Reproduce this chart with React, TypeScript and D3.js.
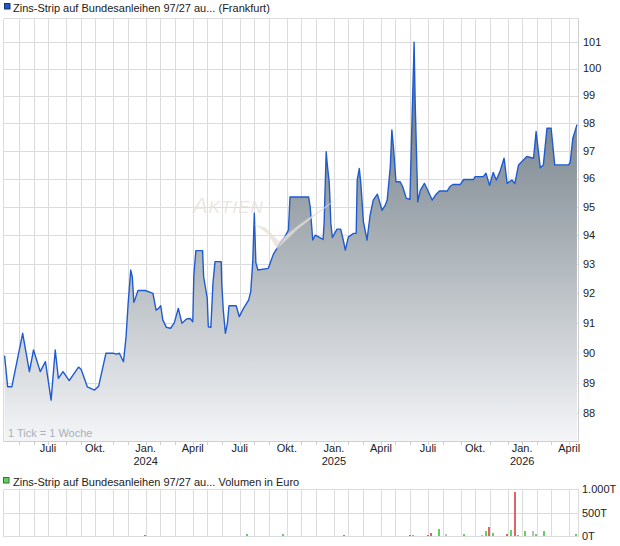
import React from 'react';
import * as d3 from 'd3';

const priceDates = [
  '2023-04-03','2023-04-09','2023-04-17','2023-05-08','2023-05-21','2023-05-29','2023-06-11','2023-06-21',
  '2023-07-02','2023-07-10','2023-07-16','2023-07-25','2023-08-06','2023-08-24','2023-08-29','2023-09-10',
  '2023-09-24','2023-10-02','2023-10-16','2023-10-31','2023-11-05','2023-11-11','2023-11-19','2023-11-24',
  '2023-11-28','2023-12-03','2023-12-06','2023-12-09','2023-12-12','2023-12-17','2023-12-31','2024-01-15',
  '2024-01-21','2024-01-26','2024-01-30','2024-02-03','2024-02-10','2024-02-18','2024-02-25','2024-03-04',
  '2024-03-11','2024-03-20','2024-03-27','2024-04-01','2024-04-03','2024-04-07','2024-04-20','2024-04-22',
  '2024-04-29','2024-05-01','2024-05-06','2024-05-10','2024-05-14','2024-05-26','2024-05-27','2024-05-30',
  '2024-06-03','2024-06-07','2024-06-10','2024-06-24','2024-06-30','2024-07-08','2024-07-18','2024-07-22',
  '2024-07-26','2024-07-29','2024-08-01','2024-08-05','2024-08-25','2024-09-04','2024-09-17','2024-09-26',
  '2024-10-03','2024-10-06','2024-11-11','2024-11-14','2024-11-19','2024-11-24','2024-12-09','2024-12-11',
  '2024-12-15','2024-12-17','2024-12-21','2024-12-24','2024-12-27','2025-01-05','2025-01-12','2025-01-17',
  '2025-01-21','2025-01-27','2025-02-06','2025-02-11','2025-02-13','2025-02-17','2025-02-20','2025-02-25',
  '2025-03-04','2025-03-10','2025-03-16','2025-03-24','2025-04-02','2025-04-08','2025-04-12','2025-04-18',
  '2025-04-21','2025-04-24','2025-04-29','2025-05-07','2025-05-12','2025-05-19','2025-05-26','2025-05-30',
  '2025-06-02','2025-06-03','2025-06-05','2025-06-09','2025-06-10','2025-06-15','2025-06-23','2025-06-28',
  '2025-07-08','2025-07-14','2025-07-22','2025-08-06','2025-08-12','2025-08-17','2025-08-31','2025-09-07',
  '2025-09-26','2025-09-29','2025-10-15','2025-10-20','2025-10-27','2025-11-03','2025-11-09','2025-11-16',
  '2025-11-24','2025-11-30','2025-12-09','2025-12-15','2025-12-22','2026-01-07','2026-01-20','2026-01-25',
  '2026-01-28','2026-02-02','2026-02-08','2026-02-15','2026-02-23','2026-03-02','2026-03-29','2026-04-01',
  '2026-04-06','2026-04-11','2026-04-14'
];

const priceValues = [
  89.9, 88.87, 88.87, 90.65, 89.37, 90.09, 89.37, 89.7,
  88.43, 90.09, 89.15, 89.37, 89.07, 89.52, 89.45, 88.87,
  88.76, 88.89, 89.98, 89.98, 89.95, 89.98, 89.7, 90.54,
  91.66, 92.8, 92.57, 91.7, 91.83, 92.1, 92.1, 92.0,
  91.43, 91.49, 91.58, 91.1, 90.85, 90.82, 90.99, 91.49,
  90.99, 91.13, 91.15, 91.04, 92.62, 93.47, 93.47, 92.57,
  91.83, 90.87, 90.85, 92.34, 93.09, 93.09, 92.34, 91.43,
  90.65, 90.99, 91.58, 91.58, 91.21, 91.49, 91.77, 92.05,
  93.09, 94.78, 93.05, 92.8, 92.86, 93.35, 93.73, 93.95,
  94.19, 95.35, 95.35, 95.01, 93.84, 94.01, 93.86, 94.42,
  96.96, 96.53, 95.83, 94.42, 93.93, 94.22, 94.22, 93.84,
  93.49, 93.95, 94.07, 94.07, 95.95, 96.36, 95.83, 94.47,
  93.84, 94.71, 95.24, 95.45, 94.88, 95.05, 95.24, 96.42,
  97.75, 97.14, 95.89, 95.89, 95.71, 95.3, 95.27, 98.11,
  100.19, 100.98, 98.84, 95.95, 95.18, 95.58, 95.83, 95.64,
  95.24, 95.41, 95.56, 95.56, 95.73, 95.79, 95.79, 95.97,
  95.97, 96.07, 96.07, 96.19, 95.76, 96.22, 95.95, 96.25,
  96.73, 95.83, 95.95, 95.83, 96.49, 96.79, 96.73, 97.69,
  97.2, 96.39, 96.49, 97.81, 97.81, 96.49, 96.49, 96.59,
  97.45, 97.75, 97.94
];

const volumeDates = [
  '2023-12-30','2024-07-15','2024-09-22','2025-01-18','2025-05-26','2025-06-01','2025-06-30','2025-07-05',
  '2025-07-21','2025-08-03','2025-08-17','2025-09-08','2025-10-04','2025-10-12','2025-10-20','2025-10-26',
  '2025-11-03','2025-11-29','2025-12-07','2025-12-15','2025-12-21','2026-01-04','2026-01-19','2026-01-25',
  '2026-02-09','2026-02-15','2026-03-01','2026-04-12'
];
const volumeValues = [
  28, 50, 50, 28, 28, 28, 20, 70,
  156, 50, 14, 50, 14, 28, 113, 206,
  70, 50, 135, 950, 35, 113, 113, 50,
  113, 14, 14, 50
];
const volumeKinds = [
  'down','up','up','down','down','up','down','down',
  'up','flat','up','up','flat','flat','up','down',
  'up','down','up','down','up','up','flat','up',
  'up','up','down','up'
];

const priceTicks = [88, 89, 90, 91, 92, 93, 94, 95, 96, 97, 98, 99, 100, 101];
const volumeTicks = [0, 500, 1000];
const volumeTickLabels = ['0T', '500T', '1.000T'];
const monthLabelNames = ['Jan.', '', '', 'April', '', '', 'Juli', '', '', 'Okt.', '', ''];

const titleMain = 'Zins-Strip auf Bundesanleihen 97/27 au... (Frankfurt)';
const titleVolume = 'Zins-Strip auf Bundesanleihen 97/27 au... Volumen in Euro';
const tickNote = '1 Tick = 1 Woche';

const FONT = '"Liberation Sans", Arial, Helvetica, sans-serif';

export default function App() {
  const parse = d3.timeParse('%Y-%m-%d');
  const pts = priceDates.map((d, i) => ({ date: parse(d) as Date, value: priceValues[i] }));
  const vols = volumeDates.map((d, i) => ({ date: parse(d) as Date, value: volumeValues[i], kind: volumeKinds[i] }));

  const left = 2.5, right = 578, top = 18, bottom = 441;
  const x = d3.scaleTime().domain([new Date(2023, 2, 30), new Date(2026, 3, 16)]).range([left, right]);
  const y = d3.scaleLog().domain([88, 101]).range([413.3, 41.7]);
  const vTop = 489.3, vBottom = 536.3;
  const yv = d3.scaleLinear().domain([0, 1000]).range([vBottom, vTop]);
  const crisp = (v: number) => Math.round(v) + 0.5;

  const months = d3.timeMonth.range(new Date(2023, 3, 1), new Date(2026, 4, 1));
  const gridMonths = months
    .map((m) => ({ m, pos: x(d3.timeMonday.floor(m)) }))
    .filter((g) => g.pos > left + 1 && g.pos < right - 1);

  const area = d3.area<{ date: Date; value: number }>()
    .x((d) => x(d.date))
    .y0(bottom)
    .y1((d) => y(d.value));
  const line = d3.line<{ date: Date; value: number }>()
    .x((d) => x(d.date))
    .y((d) => y(d.value));

  const volColor: Record<string, string> = { up: '#5fd35f', down: '#e06464', flat: '#bdbdbd' };
  const grid = '#dcdcdc';
  const L = crisp(left), R = crisp(right), T = crisp(top), B = crisp(bottom);
  const VT = crisp(vTop), VB = crisp(vBottom);

  return (
    <div style={{ position: 'absolute', left: 0, top: 0 }}>
      <svg width={620} height={546} style={{ display: 'block', fontFamily: FONT }}>
        <defs>
          <linearGradient id="areaGrad" gradientUnits="userSpaceOnUse" x1="0" y1={41} x2="0" y2={bottom}>
            <stop offset="0" stopColor="#5e6c76" />
            <stop offset="1" stopColor="#f4f5f7" />
          </linearGradient>
          <clipPath id="plotClip">
            <rect x={left} y={top} width={right - left} height={bottom - top} />
          </clipPath>
        </defs>
        <rect x={0} y={0} width={620} height={546} fill="#ffffff" />

        {/* title */}
        <rect x={4.5} y={3.5} width={5.5} height={5.5} fill="#1f56c8" stroke="#1a3470" strokeWidth={1} />
        <text x={13} y={11.5} fontSize={11} fill="#222">{titleMain}</text>

        {/* main grid */}
        <g shapeRendering="crispEdges">
          {priceTicks.map((t) => (
            <line key={'h' + t} x1={L} x2={R} y1={crisp(y(t))} y2={crisp(y(t))} stroke={grid} strokeWidth={1} />
          ))}
          {gridMonths.map((g, i) => (
            <line key={'v' + i} x1={crisp(g.pos)} x2={crisp(g.pos)} y1={T} y2={B} stroke={grid} strokeWidth={1} />
          ))}
          <line x1={L} x2={R} y1={T} y2={T} stroke={grid} />
          <line x1={L} x2={L} y1={T} y2={B} stroke={grid} />
        </g>

        {/* area & line */}
        <g clipPath="url(#plotClip)">
          <path d={area(pts) || ''} fill="url(#areaGrad)" />
          <path d={line(pts) || ''} fill="none" stroke="#1f5bd0" strokeWidth={1.4} strokeLinejoin="round" />
          {/* watermark */}
          <g opacity={0.75}>
            <text x={193} y={213} fontSize={22} fontStyle="italic" fill="#e6e0d8" letterSpacing={1}>
              <tspan>A</tspan><tspan fontSize={17}>KTIEN</tspan>
            </text>
            <path d="M254,224 L268,234 L277,249 L298,229 L342,195 L300,224 L279,241 L266,228 Z" fill="#e6e0d8" />
          </g>
        </g>

        <g shapeRendering="crispEdges">
          <line x1={L} x2={R} y1={B} y2={B} stroke="#cfcfcf" />
          <line x1={R} x2={R} y1={T} y2={B} stroke="#cfcfcf" />
        </g>
        <text x={8} y={437} fontSize={11} fill="#a9b1b9">{tickNote}</text>

        {/* y labels */}
        {priceTicks.map((t) => (
          <text key={'yl' + t} x={583} y={y(t)} dy="0.35em" fontSize={11} fill="#222">{t}</text>
        ))}

        {/* x ticks & labels */}
        <g shapeRendering="crispEdges">
          {gridMonths.map((g, i) => (
            <line key={'xt' + i} x1={crisp(g.pos)} x2={crisp(g.pos)} y1={B} y2={B + 3} stroke="#d0d0d0" />
          ))}
        </g>
        {gridMonths.map((g, i) => {
          const name = monthLabelNames[g.m.getMonth()];
          if (!name || g.m < new Date(2023, 6, 1)) return null;
          return (
            <g key={'xl' + i}>
              <text x={g.pos} y={452} textAnchor="middle" fontSize={11} fill="#222">{name}</text>
              {g.m.getMonth() === 0 && (
                <text x={g.pos} y={464.5} textAnchor="middle" fontSize={11} fill="#222">{g.m.getFullYear()}</text>
              )}
            </g>
          );
        })}

        {/* volume panel */}
        <rect x={3.5} y={477.5} width={5.5} height={5.5} fill="#66cc66" stroke="#2f7a2f" strokeWidth={1} />
        <text x={13} y={486} fontSize={11} fill="#222">{titleVolume}</text>
        <g shapeRendering="crispEdges">
          {volumeTicks.map((t) => (
            <line key={'vh' + t} x1={L} x2={R} y1={crisp(yv(t))} y2={crisp(yv(t))} stroke={grid} />
          ))}
          {gridMonths.map((g, i) => (
            <line key={'vv' + i} x1={crisp(g.pos)} x2={crisp(g.pos)} y1={VT} y2={VB} stroke={grid} />
          ))}
          <line x1={L} x2={L} y1={VT} y2={VB} stroke={grid} />
          <line x1={R} x2={R} y1={VT} y2={VB} stroke={grid} />
          {vols.map((v, i) => (
            <rect key={'vb' + i} x={Math.round(x(v.date) - 1)} y={yv(v.value)} width={2} height={vBottom - yv(v.value)} fill={volColor[v.kind]} />
          ))}
        </g>
        {volumeTicks.map((t, i) => (
          <text key={'vl' + t} x={582} y={yv(t)} dy="0.35em" fontSize={11} fill="#222">{volumeTickLabels[i]}</text>
        ))}
      </svg>
    </div>
  );
}
